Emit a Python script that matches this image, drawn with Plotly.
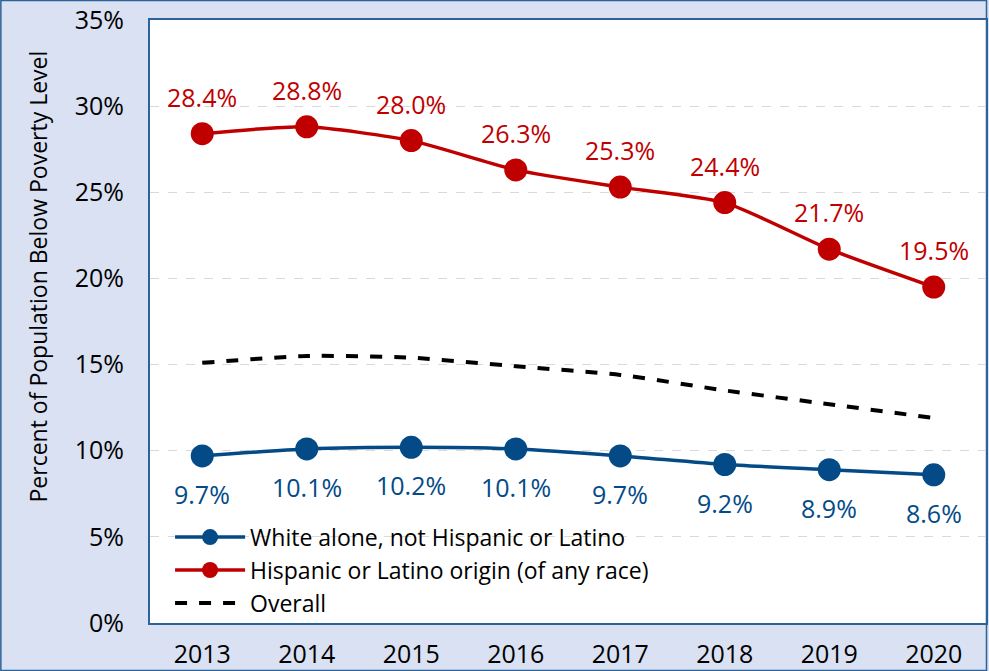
import plotly.graph_objects as go

years = ["2013", "2014", "2015", "2016", "2017", "2018", "2019", "2020"]
white = [9.7, 10.1, 10.2, 10.1, 9.7, 9.2, 8.9, 8.6]
hispanic = [28.4, 28.8, 28.0, 26.3, 25.3, 24.4, 21.7, 19.5]
overall = [15.1, 15.5, 15.4, 14.9, 14.4, 13.5, 12.7, 11.9]
y_ticks = [0, 5, 10, 15, 20, 25, 30, 35]

BLUE = "#034a87"
RED = "#c00000"
FONT = "Open Sans"
BG = "#d9e1f2"
BORDER = "#2e6399"

fig = go.Figure()
fig.add_trace(go.Scatter(
    x=years, y=white, name="White alone, not Hispanic or Latino",
    mode="lines+markers", line=dict(color=BLUE, width=3.5, shape="spline", smoothing=0.6),
    marker=dict(size=23, color=BLUE)))
fig.add_trace(go.Scatter(
    x=years, y=hispanic, name="Hispanic or Latino origin (of any race)",
    mode="lines+markers", line=dict(color=RED, width=3.5, shape="spline", smoothing=0.6),
    marker=dict(size=23, color=RED)))
fig.add_trace(go.Scatter(
    x=years, y=overall, name="Overall",
    mode="lines", line=dict(color="black", width=4, dash="dash", shape="spline", smoothing=0.6)))

annotations = []
for i, yv in enumerate(hispanic):
    annotations.append(dict(x=i, y=yv, xref="x", yref="y", text=f"{yv:.1f}%", showarrow=False,
                            yshift=37, font=dict(family=FONT, size=25, color=RED)))
for i, yv in enumerate(white):
    annotations.append(dict(x=i, y=yv, xref="x", yref="y", text=f"{yv:.1f}%", showarrow=False,
                            yshift=-38, font=dict(family=FONT, size=25, color=BLUE)))
annotations.append(dict(x=-0.1337, y=0.575, xref="paper", yref="paper", textangle=-90,
                        xanchor="center", yanchor="middle",
                        text="Percent of Population Below Poverty Level", showarrow=False,
                        font=dict(family=FONT, size=23, color="black")))

fig.update_layout(
    width=989, height=671,
    margin=dict(l=150, r=1, t=20, b=48),
    paper_bgcolor=BG, plot_bgcolor="white",
    font=dict(family=FONT, size=24, color="black"),
    showlegend=True,
    legend=dict(x=0.024, y=0.178, xanchor="left", yanchor="top", bgcolor="rgba(0,0,0,0)",
                font=dict(family=FONT, size=23), itemwidth=70, tracegroupgap=0),
    annotations=annotations,
    shapes=[dict(type="rect", xref="paper", yref="paper", x0=-0.1784, x1=1.0006,
                 y0=-0.0788, y1=1.0323, line=dict(color=BORDER, width=1.5), layer="below")],
)
fig.update_xaxes(type="category", range=[-0.5, 7.5], showgrid=False,
                 showline=True, mirror=True, linecolor=BORDER, linewidth=2,
                 ticks="", ticklabelstandoff=8, tickfont=dict(family=FONT, size=25))
fig.update_yaxes(range=[0, 35], tickvals=y_ticks, ticktext=[f"{v}%" for v in y_ticks],
                 showgrid=True, gridcolor="#d9d9d9", griddash="dash", gridwidth=1,
                 showline=True, mirror=True, linecolor=BORDER, linewidth=2,
                 ticks="", ticklabelstandoff=19, zeroline=False,
                 tickfont=dict(family=FONT, size=25))

fig.write_html("out.html", config={"displayModeBar": False},
               post_script="document.body.style.margin='0';document.body.style.overflow='hidden';")
